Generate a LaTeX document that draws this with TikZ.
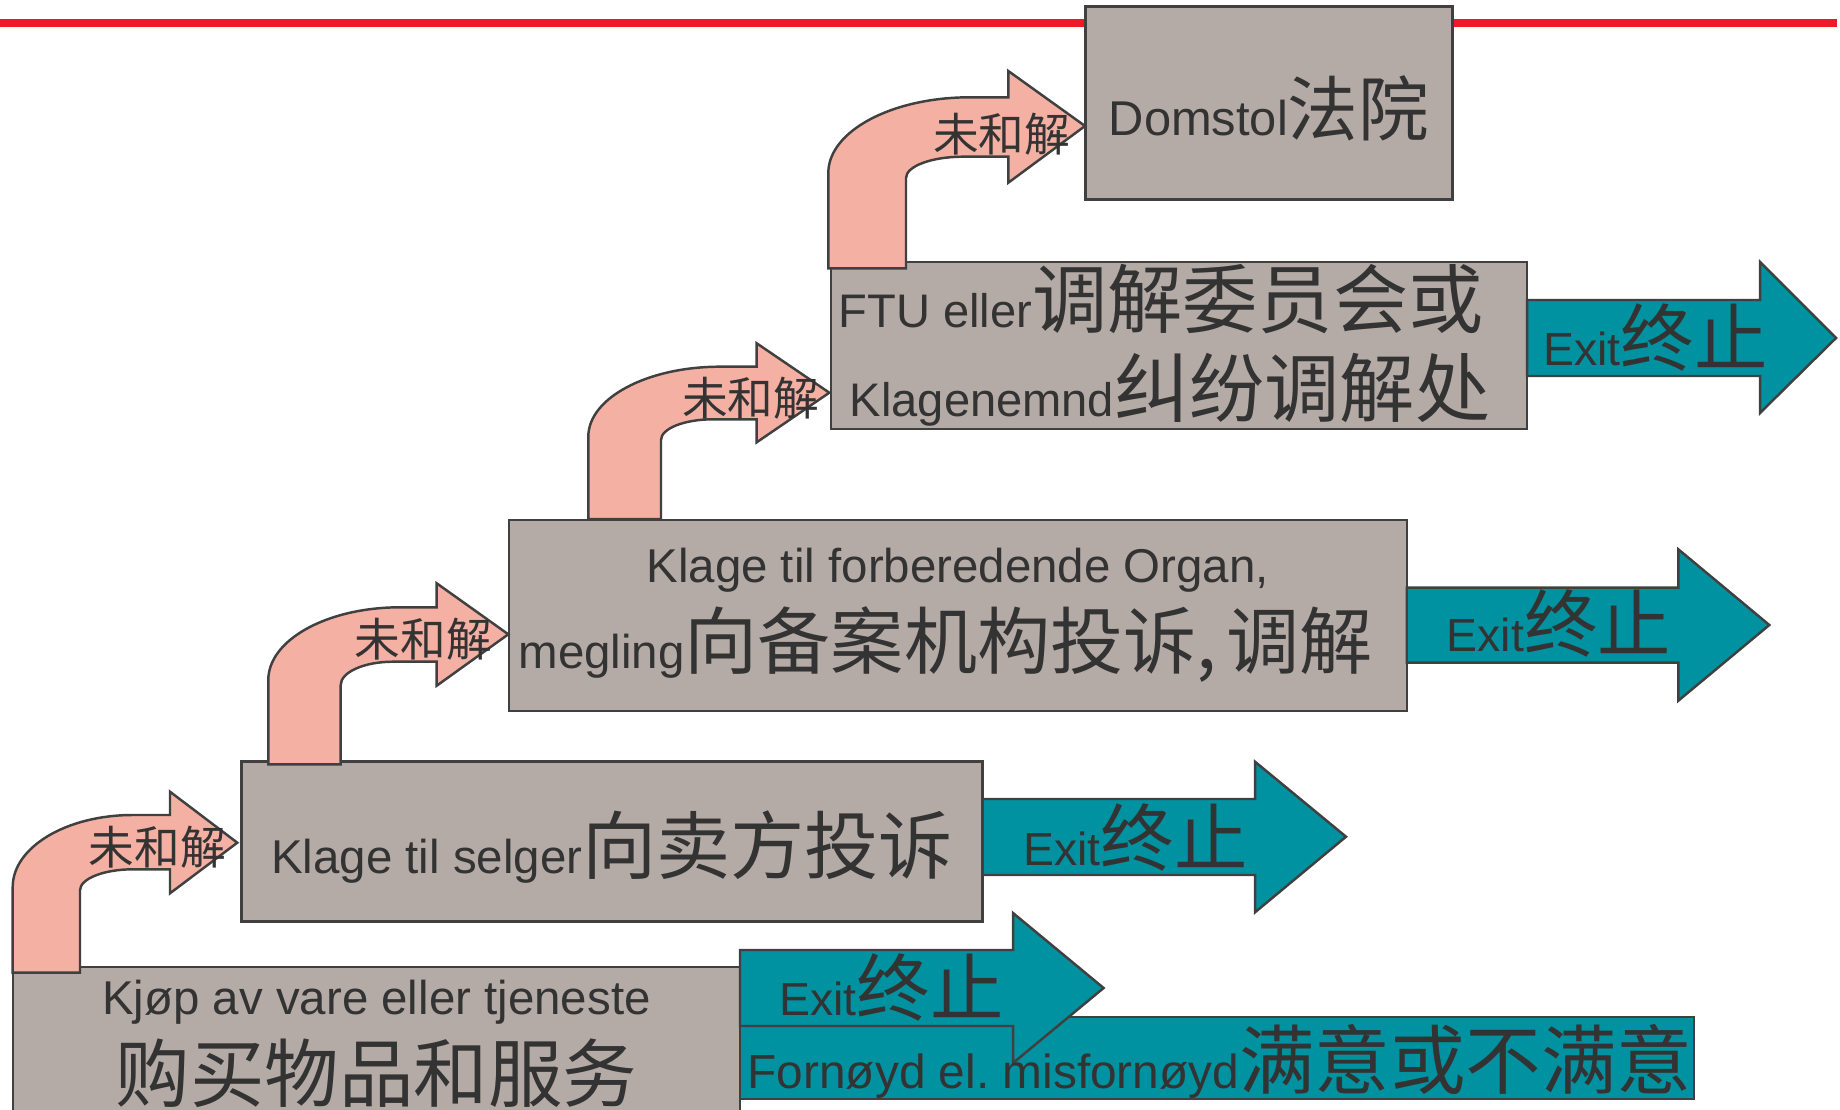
\documentclass[tikz,border=0pt]{standalone}
\usepackage{fontspec}
\usepackage{xcolor}
\setmainfont{Liberation Sans}
\newfontfamily\zhfont{Noto Sans CJK SC}
\newcommand{\zh}[2][21]{{\zhfont\fontsize{#1}{#1}\selectfont #2}}
\frenchspacing
\definecolor{boksgraa}{RGB}{180,170,166}
\definecolor{utgang}{RGB}{0,146,160}
\definecolor{rosa}{RGB}{244,176,162}
\definecolor{kant}{RGB}{64,64,64}
\definecolor{blekk}{RGB}{51,51,51}
\definecolor{strek}{RGB}{237,28,36}
\tikzset{
	boks/.style={draw=kant, fill=boksgraa, line width=0.7pt, inner sep=0pt, text=blekk, align=center, font=\fontsize{13.5}{25}\selectfont},
	utpil/.style={draw=kant, fill=utgang, line width=0.7pt},
	buepil/.style={draw=kant, fill=rosa, line width=0.7pt},
	tekst/.style={inner sep=0pt, text=blekk, font=\fontsize{13.2}{16}\selectfont}
}

\begin{document}
\begin{tikzpicture}
				\useasboundingbox (0,0) rectangle (18.40,-11.09);
				
				%% Rød linje
				\draw [strek, line width=0.074cm] (0,-0.23)--(18.37,-0.23);
				
				%% Bokser
				\node [boks, minimum width=3.67cm, minimum height=1.93cm, text height=0.66cm, text depth=0cm, font=\fontsize{13.9}{16}\selectfont]
				(domstol) at (12.69,-1.03) {Domstol\zh[20.1]{法院}};
				
				\node [boks, minimum width=6.96cm, minimum height=1.67cm, font=\fontsize{13.4}{25.2}\selectfont]
				(ftu) at (11.79,-3.455) {FTU eller\zh[21.4]{调解委员会或}\hspace*{0.36cm}\\Klagenemnd\zh[21.4]{纠纷调解处}\hspace*{0.18cm}};
				
				\node [boks, minimum width=8.98cm, minimum height=1.91cm, font=\fontsize{13.5}{24.4}\selectfont]
				(organ) at (9.5775,-6.155) {Klage til forberedende Organ,\\megling\zh[20.8]{向备案机构投诉,\hspace{0.1cm}调解}\hspace*{0.24cm}};
				
				\node [boks, minimum width=7.412cm, minimum height=1.601cm, text height=0.627cm, text depth=0cm]
				(selger) at (6.121,-8.4165) {Klage til selger\zh[21.1]{向卖方投诉}};
				
				\node [boks, minimum width=7.272cm, minimum height=1.53cm, font=\fontsize{13.5}{24.8}\selectfont]
				(kjop) at (3.764,-10.435) {Kjøp av vare eller tjeneste\\\zh[21.2]{购买物品和服务}};
				
				\node [boks, fill=utgang, minimum width=9.54cm, minimum height=0.82cm]
				(fornoyd) at (12.17,-10.58) {};
				
				%% Exit-piler
				\draw [utpil] (7.40,-9.50)--(10.13,-9.50)--(10.13,-9.13)--(11.036,-9.88)
				--(10.13,-10.63)--(10.13,-10.26)--(7.40,-10.26)--cycle;
				
				\draw [utpil] (9.827,-7.99)--(12.55,-7.99)--(12.55,-7.617)--(13.46,-8.367)
				--(12.55,-9.123)--(12.55,-8.75)--(9.827,-8.75)--cycle;
				
				\draw [utpil] (14.067,-5.877)--(16.783,-5.877)--(16.783,-5.493)--(17.693,-6.25)
				--(16.783,-7.007)--(16.783,-6.627)--(14.067,-6.627)--cycle;
				
				\draw [utpil] (15.27,-3.00)--(17.60,-3.00)--(17.60,-2.62)--(18.36,-3.38)
				--(17.60,-4.13)--(17.60,-3.76)--(15.27,-3.76)--cycle;
				
				\node [tekst, anchor=base west] (exit1) at (7.785,-10.15) {Exit\zh[20.9]{终止}};
				\node [tekst, anchor=base west] (exit2) at (10.227,-8.65) {Exit\zh[20.9]{终止}};
				\node [tekst, anchor=base west] (exit3) at (14.46,-6.517) {Exit\zh[20.9]{终止}};
				\node [tekst, anchor=base west] (exit4) at (15.427,-3.65) {Exit\zh[20.9]{终止}};
				
				\node [tekst, anchor=base west, font=\fontsize{13.6}{16}\selectfont] (fornoydtekst) at (7.47,-10.88)
				{Fornøyd el. misfornøyd\zh[21.5]{满意或不满意}};
				
				%% Bøyde piler
				\draw [buepil] (0.127,-9.727)--(0.127,-8.87)
				arc [start angle=180, end angle=90, x radius=1.20, y radius=0.72]
				--(1.70,-8.15)--(1.70,-7.917)--(2.373,-8.427)--(1.70,-8.933)--(1.70,-8.693)--(1.33,-8.693)
				arc [start angle=90, end angle=180, x radius=0.53, y radius=0.21]
				--(0.80,-9.727)--cycle;
				
				\draw [buepil] (2.683,-7.643)--(2.683,-6.80)
				arc [start angle=180, end angle=90, x radius=1.317, y radius=0.727]
				--(4.367,-6.073)--(4.367,-5.833)--(5.083,-6.343)--(4.367,-6.857)--(4.367,-6.617)--(3.93,-6.617)
				arc [start angle=90, end angle=180, x radius=0.523, y radius=0.233]
				--(3.407,-7.643)--cycle;
				
				\draw [buepil] (5.883,-5.19)--(5.883,-4.367)
				arc [start angle=180, end angle=90, x radius=1.317, y radius=0.70]
				--(7.567,-3.667)--(7.567,-3.433)--(8.293,-3.927)--(7.567,-4.423)--(7.567,-4.193)--(7.13,-4.193)
				arc [start angle=90, end angle=180, x radius=0.52, y radius=0.207]
				--(6.61,-5.19)--cycle;
				
				\draw [buepil] (8.283,-2.683)--(8.283,-1.73)
				arc [start angle=180, end angle=90, x radius=1.417, y radius=0.757]
				--(10.083,-0.973)--(10.083,-0.71)--(10.85,-1.26)--(10.083,-1.827)--(10.083,-1.567)--(9.63,-1.567)
				arc [start angle=90, end angle=180, x radius=0.57, y radius=0.213]
				--(9.06,-2.683)--cycle;
				
				\node [tekst] (uloest1) at (1.575,-8.475) {\zh[13]{未和解}};
				\node [tekst] (uloest2) at (4.233,-6.392) {\zh[13]{未和解}};
				\node [tekst] (uloest3) at (7.508,-3.983) {\zh[13]{未和解}};
				\node [tekst] (uloest4) at (10.017,-1.342) {\zh[13]{未和解}};
\end{tikzpicture}
\end{document}
